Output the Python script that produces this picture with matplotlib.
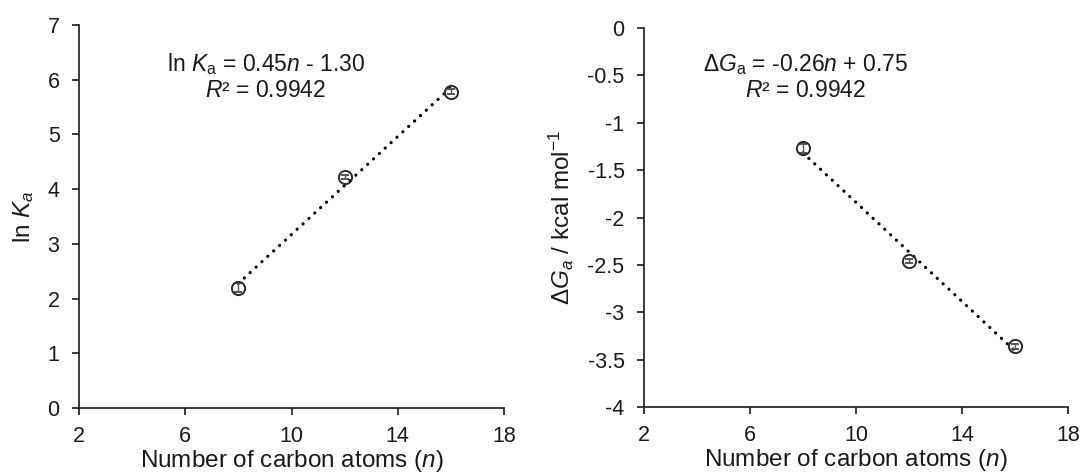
import numpy as np
import matplotlib
matplotlib.use("Agg")
import matplotlib.pyplot as plt

plt.rcParams["font.family"] = ["Liberation Sans", "DejaVu Sans"]
plt.rcParams["mathtext.fontset"] = "custom"
plt.rcParams["mathtext.rm"] = "Liberation Sans"
plt.rcParams["mathtext.it"] = "Liberation Sans:italic"
plt.rcParams["mathtext.bf"] = "Liberation Sans:bold"

# ---- data ------------------------------------------------------------------
n_carbon = [8, 12, 16]
ln_ka = [2.20, 4.22, 5.78]
ln_ka_err = [0.08, 0.03, 0.05]
dg_a = [-1.27, -2.46, -3.36]
dg_a_err = [0.05, 0.02, 0.03]

x_ticks = [2, 6, 10, 14, 18]
left_yticks = [0, 1, 2, 3, 4, 5, 6, 7]
right_yticks = [-4, -3.5, -3, -2.5, -2, -1.5, -1, -0.5, 0]

INK = "#1a1a1a"
TICK_FS = 15.5
LAB_FS = 17.5
EQ_FS = 16.5

W, H = 1086, 476
fig = plt.figure(figsize=(W / 100, H / 100), dpi=100)
# axes boxes measured in pixels: (left, top, right, bottom)
ax1 = fig.add_axes([79 / W, 1 - 408 / H, (504 - 79) / W, (408 - 25) / H])
ax2 = fig.add_axes([644 / W, 1 - 407 / H, (1068 - 644) / W, (407 - 28) / H])


def panel(ax, x, y, err, yticks, ylabel, eq, eq_xy):
    x = np.array(x, float); y = np.array(y, float)
    k, b = np.polyfit(x, y, 1)
    xf = np.array([x.min(), x.max()])
    ax.plot(xf, k * xf + b, color="black", lw=2.3,
            linestyle=(0, (0.05, 2.45)), dash_capstyle="round", zorder=2)
    ax.errorbar(x, y, yerr=err, fmt="o", ms=9.5, mfc="none", mec="#2a2a2a",
                mew=1.4, ecolor="#555555", elinewidth=1.0, capsize=3, zorder=3)
    ax.set_xlim(2, 18)
    ax.set_xticks(x_ticks)
    ax.set_ylim(yticks[0], yticks[-1])
    ax.set_yticks(yticks)
    ax.set_yticklabels([f"{t:g}" for t in yticks])
    for s in ("top", "right"):
        ax.spines[s].set_visible(False)
    for s in ("left", "bottom"):
        ax.spines[s].set_linewidth(1.2)
        ax.spines[s].set_color(INK)
    ax.tick_params(direction="out", length=5, width=1.2, colors=INK,
                   labelsize=TICK_FS)
    ax.tick_params(axis="y", pad=9)
    ax.tick_params(axis="x", pad=8)
    ax.set_xlabel("Number of carbon atoms ($\\it{n}$)", fontsize=LAB_FS,
                  color=INK, labelpad=1)
    ax.set_ylabel(ylabel, fontsize=LAB_FS, color=INK, labelpad=8)
    ax.text(eq_xy[0], eq_xy[1], eq, ha="center", va="center",
            fontsize=EQ_FS, color=INK, linespacing=1.1)


panel(ax1, n_carbon, ln_ka, ln_ka_err, left_yticks, "ln $\\it{K}_{a}$",
      "ln $\\it{K}_{\\rm{a}}$ = 0.45$\\it{n}$ - 1.30\n$\\it{R}$² = 0.9942",
      (9.03, 6.06))
panel(ax2, n_carbon, dg_a, dg_a_err, right_yticks,
      "$\\Delta\\it{G}_{a}$ / kcal mol$^{\\rm{-1}}$",
      "$\\Delta\\it{G}_{\\rm{a}}$ = -0.26$\\it{n}$ + 0.75\n$\\it{R}$² = 0.9942",
      (8.1, -0.52))

fig.savefig("out.png", dpi=100, facecolor="white")
